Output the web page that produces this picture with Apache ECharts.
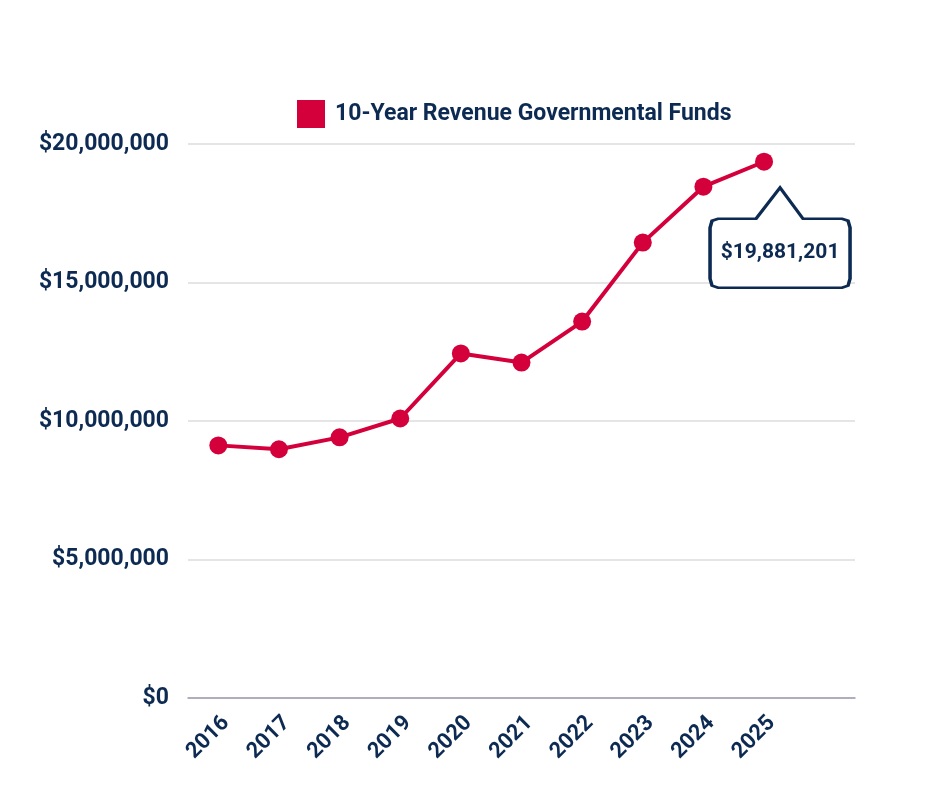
<!DOCTYPE html>
<html>
<head>
<meta charset="utf-8">
<script src="https://cdn.jsdelivr.net/npm/echarts@6/dist/echarts.min.js"></script>
<style>
  html, body { margin: 0; padding: 0; background: #ffffff; }
  #chart { width: 940px; height: 788px; }
</style>
</head>
<body>
<div id="chart"></div>
<script>
const years = ['2016', '2017', '2018', '2019', '2020', '2021', '2022', '2023', '2024', '2025'];
const revenue = [9120000, 8980000, 9410000, 10090000, 12440000, 12110000, 13590000, 16440000, 18460000, 19360000];
const seriesName = '10-Year Revenue Governmental Funds';
const calloutText = '$19,881,201';
const yTicks = [0, 5000000, 10000000, 15000000, 20000000];

const NAVY = '#0c2a52';
const RED = '#d4003b';

const axisCategories = years.concat(['']);
const lastIdx = years.length - 1;

const chart = echarts.init(document.getElementById('chart'));
chart.setOption({
  backgroundColor: '#ffffff',
  animation: false,
  textStyle: { fontFamily: 'Roboto' },
  legend: {
    left: 297,
    top: 100,
    padding: 0,
    icon: 'rect',
    itemWidth: 28,
    itemHeight: 28,
    itemGap: 10,
    textStyle: { color: NAVY, fontSize: 23, fontWeight: 'bold', fontFamily: 'Roboto', padding: [0, 0, 0, 5] },
    data: [seriesName]
  },
  grid: { left: 188, right: 85, top: 144, bottom: 90, containLabel: false },
  xAxis: {
    type: 'category',
    data: axisCategories,
    boundaryGap: true,
    axisLine: { show: true, lineStyle: { color: '#9c9cb0', width: 1.5 } },
    axisTick: { show: false },
    axisLabel: {
      rotate: 45,
      margin: 14,
      verticalAlign: 'top',
      color: NAVY,
      fontSize: 22,
      fontWeight: 'bold',
      fontFamily: 'Roboto',
      interval: 0
    },
    splitLine: { show: false }
  },
  yAxis: {
    type: 'value',
    min: yTicks[0],
    max: yTicks[yTicks.length - 1],
    interval: yTicks[1] - yTicks[0],
    axisLine: { show: false },
    axisTick: { show: false },
    axisLabel: {
      margin: 19,
      color: NAVY,
      fontSize: 23,
      fontWeight: 'bold',
      fontFamily: 'Roboto',
      formatter: function (v) { return '$' + v.toLocaleString('en-US'); }
    },
    splitLine: { show: true, lineStyle: { color: '#dddde0', width: 1.5 } }
  },
  series: [{
    name: seriesName,
    type: 'line',
    data: revenue,
    color: RED,
    symbol: 'circle',
    symbolSize: 18,
    lineStyle: { color: RED, width: 4 },
    itemStyle: { color: RED },
    markPoint: {
      silent: true,
      symbol: 'path://M0,40 L2,33 L8,31 L46,31 L70,0 L93,31 L132,31 L138,33 L140,40 L140,91 L138,98 L132,100 L8,100 L2,98 L0,91 Z',
      symbolSize: [140, 100],
      symbolOffset: [16, 76],
      itemStyle: { color: '#ffffff', borderColor: NAVY, borderWidth: 3 },
      label: {
        show: true,
        position: 'inside',
        offset: [0, 15],
        color: NAVY,
        fontSize: 21,
        fontWeight: 'bold',
        fontFamily: 'Roboto',
        formatter: calloutText
      },
      data: [{ coord: [lastIdx, revenue[lastIdx]] }]
    }
  }]
});
</script>
</body>
</html>
